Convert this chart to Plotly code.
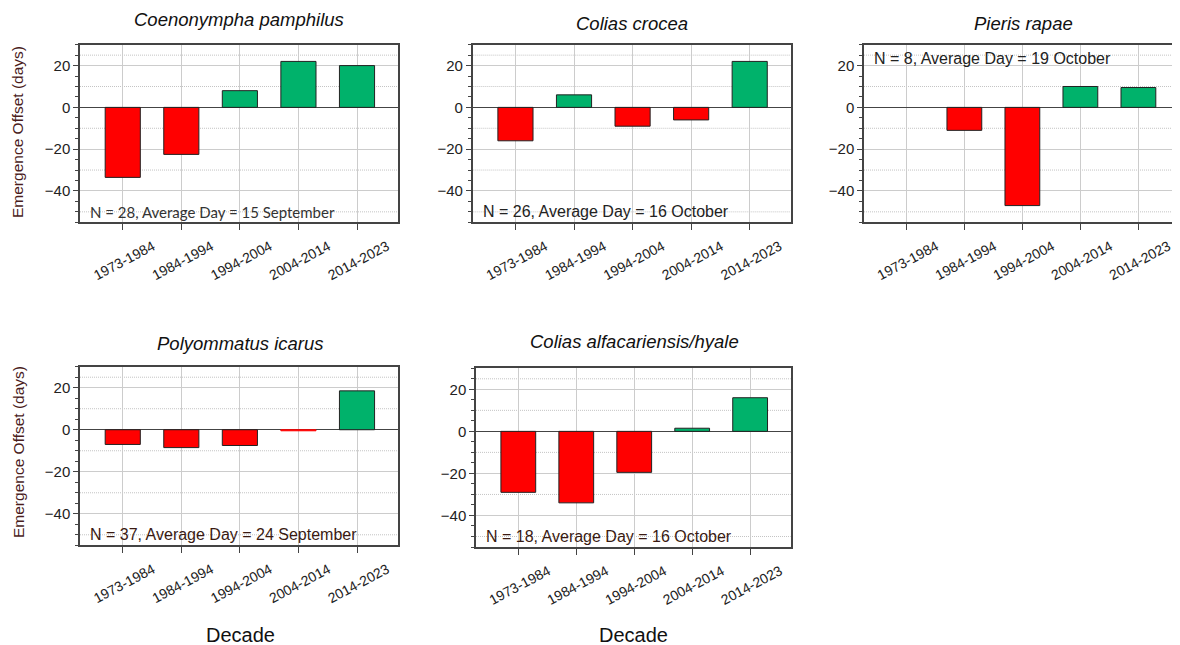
import plotly.graph_objects as go

OFF = 8  # default page body margin in the html page
W, H = 1180 - OFF, 645 - OFF

decades = ["1973-1984", "1984-1994", "1994-2004", "2004-2014", "2014-2023"]
species = ["Coenonympha pamphilus", "Colias crocea", "Pieris rapae",
           "Polyommatus icarus", "Colias alfacariensis/hyale"]

coenonympha_pamphilus = [-33.5, -22.5, 8, 22, 20]
colias_crocea = [-16, 6, -9, -6, 22]
pieris_rapae = [None, -11, -47, 10, 9.5]
polyommatus_icarus = [-7, -8.5, -7.5, -0.5, 18.5]
colias_alfacariensis_hyale = [-29, -34, -19.5, 1.5, 16]

n_values = [28, 26, 8, 37, 18]
average_days = ["15 September", "16 October", "19 October", "24 September", "16 October"]

series = [coenonympha_pamphilus, colias_crocea, pieris_rapae,
          polyommatus_icarus, colias_alfacariensis_hyale]

# pixel boxes of each panel in screen pixels (left, top, right, bottom)
boxes = [(80, 44.7, 398, 222.3), (472.7, 44.7, 790.7, 222.3), (864, 44.7, 1179, 222.3),
         (80, 366.7, 398, 545.3), (476, 368.3, 790.7, 547)]
title_pos = [(239, 19), (632, 23), (1023.5, 23), (240, 343), (634, 341)]


def px(x):
    return (x - OFF) / W


def py(y):
    return 1 - (y - OFF) / H


RED = "#ff0000"
GREEN = "#00b26b"
FONT = "Liberation Sans, Arial"

fig = go.Figure()

for i, (name, vals) in enumerate(zip(species, series)):
    ax = "" if i == 0 else str(i + 1)
    colors = [GREEN if (v is not None and v >= 0) else RED for v in vals]
    lcolors = [("#222" if (v is not None and abs(v) >= 1) else c) for v, c in zip(vals, colors)]
    fig.add_trace(go.Bar(
        x=list(range(len(decades))), y=vals, width=0.6,
        marker=dict(color=colors, line=dict(color=lcolors, width=1)),
        xaxis="x" + ax, yaxis="y" + ax, showlegend=False,
    ))
    l, t, r, b = boxes[i]
    xa = dict(
        domain=[px(l), min(px(r), 1)], anchor="y" + ax, range=[-0.73, 4.7],
        tickmode="array", tickvals=list(range(len(decades))), ticktext=decades,
        tickangle=-28, ticks="outside", ticklen=6, tickcolor="#444",
        tickfont=dict(family=FONT, size=14, color="#222"),
        showgrid=True, gridcolor="#cccccc", gridwidth=1,
        showline=True, linecolor="#444", linewidth=1.5, mirror=True,
        zeroline=False, fixedrange=True, ticklabelshift=30, ticklabelstandoff=3,
    )
    ya = dict(
        domain=[py(b), py(t)], anchor="x" + ax, range=[-55, 30],
        tickmode="array", tickvals=[-40, -20, 0, 20],
        ticks="outside", ticklen=5, tickcolor="#444",
        tickfont=dict(family=FONT, size=15, color="#222"),
        minor=dict(dtick=5, tick0=0, ticks="outside", ticklen=3, tickcolor="#444", showgrid=False),
        showgrid=True, gridcolor="#cccccc", gridwidth=1,
        showline=True, linecolor="#444", linewidth=1.5, mirror=True,
        zeroline=True, zerolinecolor="#444", zerolinewidth=1.2, fixedrange=True,
    )
    fig.update_layout(**{"xaxis" + ax: xa, "yaxis" + ax: ya})

    for yv in [25, 10, -10, -30, -50]:
        fig.add_shape(type="line", xref="x" + ax + " domain", yref="y" + ax,
                      x0=0, x1=1, y0=yv, y1=yv, layer="below",
                      line=dict(color="#c4c4c4", width=1, dash="1px,1px"))

    tx, ty = title_pos[i]
    fig.add_annotation(text=name, x=px(tx), y=py(ty), xref="paper", yref="paper",
                       showarrow=False, xanchor="center", yanchor="middle",
                       font=dict(family=FONT, size=18.5, color="#111", style="italic"))

    label = f"N = {n_values[i]}, Average Day = {average_days[i]}"
    if i == 0:
        fnt = dict(family="Lato", size=15, color="#333")
    elif i in (3, 4):
        fnt = dict(family=FONT, size=16, color="#3a1a12")
    else:
        fnt = dict(family=FONT, size=16, color="#222")
    ypos = 0.92 if i == 2 else 0.06
    fig.add_annotation(text=label, xref="x" + ax + " domain", yref="y" + ax + " domain",
                       x=0.025, y=ypos, xanchor="left", yanchor="middle",
                       showarrow=False, font=fnt)

# shared axis titles
for cy in [132, 452]:
    fig.add_annotation(text="Emergence Offset (days)", x=px(18), y=py(cy),
                       xref="paper", yref="paper", textangle=-90, showarrow=False,
                       xanchor="center", yanchor="middle",
                       font=dict(family=FONT, size=15.5, color="#4a1c1c"))
for cx in [240, 633]:
    fig.add_annotation(text="Decade", x=px(cx), y=py(635), xref="paper", yref="paper",
                       showarrow=False, xanchor="center", yanchor="middle",
                       font=dict(family=FONT, size=20, color="#111"))

fig.update_layout(
    width=W, height=H, margin=dict(l=0, r=0, t=0, b=0),
    paper_bgcolor="white", plot_bgcolor="white", bargap=0.4,
)

fig.write_html("out.html", config={"displayModeBar": False})
